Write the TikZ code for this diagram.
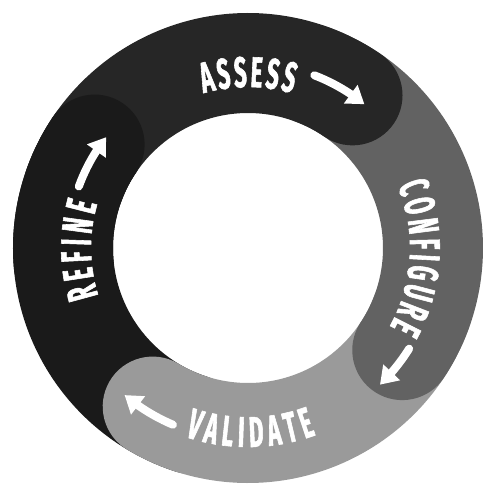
\documentclass[tikz,border=0pt]{standalone}
\usepackage{fontspec}
\newfontfamily\ringfamily{Fira Sans}[FakeStretch=0.52,FakeBold=1.3]
\newcommand\ringfont{\ringfamily\bfseries\fontsize{43pt}{45pt}\selectfont}
\usetikzlibrary{decorations.text,arrows.meta,bending}

\definecolor{assesscol}{HTML}{262626}
\definecolor{refinecol}{HTML}{1A1A1A}
\definecolor{configcol}{HTML}{626262}
\definecolor{validcol}{HTML}{9A9A9A}

\tikzset{
  band/.style={line width=100pt, line cap=round, draw=#1},
  flow/.style={white, line width=8pt, line cap=round,
    -{Triangle[width=22pt,length=17pt]}},
  ringlabel/.style={decorate, decoration={text along path,
    text align=fit to path, text color=white, text={|\ringfont|#1}}}
}

\begin{document}
\begin{tikzpicture}[x=1pt,y=1pt]
  \useasboundingbox (-248,-242) rectangle (235,248);

  % four overlapping bands of the cycle; each round head lies over the next band
  \draw[band=refinecol] (252:185) arc[start angle=252, end angle=146, radius=185];
  \draw[band=validcol] (-20:185) arc[start angle=-20, end angle=-121, radius=185];
  \draw[band=configcol] (70:185) arc[start angle=70, end angle=-33.5, radius=185];
  \draw[band=assesscol] (160:185) arc[start angle=160, end angle=55.6, radius=185];
  % the head of the last band closes the loop over the first one
  \draw[band=refinecol] (185:185) arc[start angle=185, end angle=146, radius=185];

  % stage names set along the ring
  \path[ringlabel=ASSESS] (106:161) arc[start angle=106, end angle=74, radius=161];
  \path[ringlabel=CONFIGURE] (22.5:162) arc[start angle=22.5, end angle=-29, radius=162];
  \path[ringlabel=VALIDATE] (-108.5:199) arc[start angle=-108.5, end angle=-70, radius=199];
  \path[ringlabel=REFINE] (197.7:157) arc[start angle=197.7, end angle=163.7, radius=157];

  % direction arrows
  \coordinate (as) at (69:185);
  \coordinate (cs) at (-32:190);
  \coordinate (vs) at (-113:192);
  \coordinate (rs) at (160:180);
  \draw[flow] (as) arc[start angle=69, end angle=51, radius=185];
  \draw[flow] (cs) arc[start angle=-32, end angle=-46, radius=190];
  \draw[flow] (vs) arc[start angle=-113, end angle=-130, radius=192];
  \draw[flow] (rs) arc[start angle=160, end angle=142, radius=180];
\end{tikzpicture}
\end{document}
